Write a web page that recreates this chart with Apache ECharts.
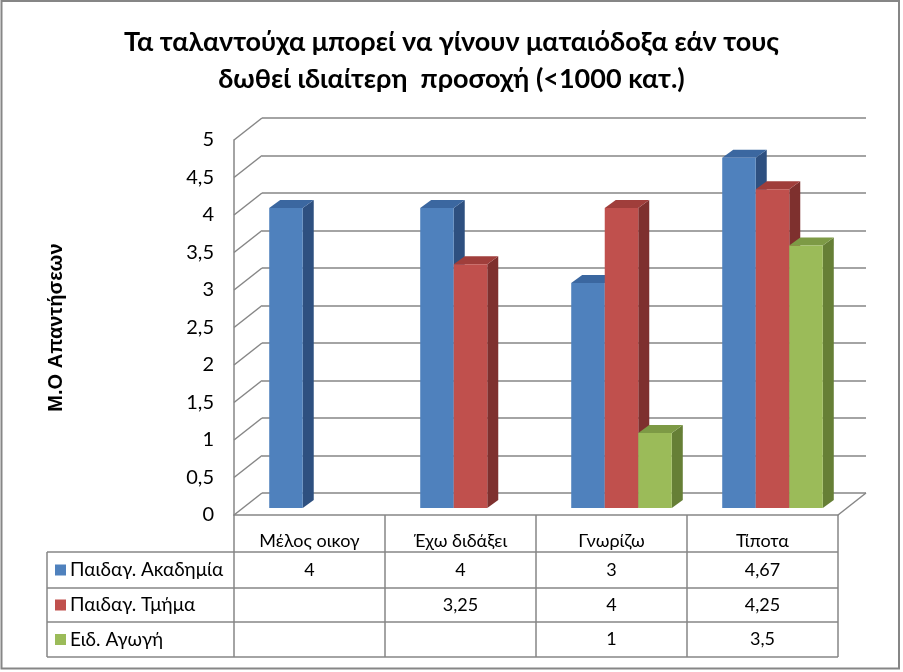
<!DOCTYPE html>
<html><head><meta charset="utf-8">
<script src="https://cdn.jsdelivr.net/npm/echarts@6/dist/echarts.min.js"></script>
<style>html,body{margin:0;padding:0;background:#fff}#c{width:903px;height:672px}</style>
</head><body><div id="c"></div>
<script>
const categories = ['Μέλος οικογ', 'Έχω διδάξει', 'Γνωρίζω', 'Τίποτα'];
const seriesNames = ['Παιδαγ. Ακαδημία', 'Παιδαγ. Τμήμα', 'Ειδ. Αγωγή'];
const academy = [4, 4, 3, 4.67];
const department = [null, 3.25, 4, 4.25];
const special = [null, null, 1, 3.5];
const yTicks = [0, 0.5, 1, 1.5, 2, 2.5, 3, 3.5, 4, 4.5, 5];
const titleText = 'Τα ταλαντούχα μπορεί να γίνουν ματαιόδοξα εάν τους\nδωθεί ιδιαίτερη  προσοχή (<1000 κατ.)';
const yTitle = 'Μ.Ο Απαντήσεων';

const FONT = 'Lato, "Noto Sans", sans-serif';
const GRAY = '#868686';
const faces = [
  {front:'#4F81BD', top:'#3B67A0', side:'#2E5080'},
  {front:'#C0504D', top:'#A03E3B', side:'#7E302E'},
  {front:'#9BBB59', top:'#7D9A45', side:'#667F36'}
];
const BACK_DX = 28, BACK_DY = -22;   // front plane -> back wall
const BAR_DX = 10, BAR_DY = -7;      // front plane -> bar front faces
const DEPTH_DX = 11, DEPTH_DY = -8;  // bar depth
const fmt = v => String(v).replace('.', ',');
const allSeries = [academy, department, special];

function barSeries(arr, s) {
  return {
    type: 'custom', xAxisIndex: 0, yAxisIndex: 0, z: 5,
    name: seriesNames[s],
    data: arr.map((v, i) => [i, v == null ? NaN : v]),
    renderItem: function (params, api) {
      const i = api.value(0), v = api.value(1);
      if (isNaN(v)) return null;
      const W = api.size([1, 0])[0];
      const bw = W * 0.222;
      const c = api.coord([i, v]);
      const b = api.coord([i, 0]);
      const x0 = c[0] - 1.5 * bw + s * bw + BAR_DX;
      const yt = c[1] + BAR_DY, yb = b[1] + BAR_DY;
      const f = faces[s];
      return {
        type: 'group',
        children: [
          {type: 'polygon', shape: {points: [[x0 + bw, yt], [x0 + bw + DEPTH_DX, yt + DEPTH_DY], [x0 + bw + DEPTH_DX, yb + DEPTH_DY], [x0 + bw, yb]]}, style: {fill: f.side}},
          {type: 'polygon', shape: {points: [[x0, yt], [x0 + DEPTH_DX, yt + DEPTH_DY], [x0 + bw + DEPTH_DX, yt + DEPTH_DY], [x0 + bw, yt]]}, style: {fill: f.top}},
          {type: 'rect', shape: {x: x0, y: yt, width: bw, height: yb - yt}, style: {fill: f.front}}
        ]
      };
    }
  };
}

const option = {
  animation: false,
  backgroundColor: '#fff',
  title: {
    text: titleText, left: 'center', top: 19,
    textStyle: {fontFamily: FONT, fontSize: 27, fontWeight: 'bold', color: '#000', lineHeight: 37}
  },
  graphic: [{type: 'rect', shape: {x: 1.5, y: 1, width: 897.5, height: 667.5}, style: {fill: null, stroke: GRAY, lineWidth: 2}, z: 100}],
  grid: [
    {left: 234, top: 140, width: 604, height: 375},
    {left: 234 + BACK_DX, top: 140 + BACK_DY, width: 604, height: 375}
  ],
  xAxis: [
    {type: 'category', gridIndex: 0, data: categories,
     axisLine: {show: true, lineStyle: {color: GRAY, width: 1.5}}, axisTick: {show: false},
     axisLabel: {color: '#000', fontFamily: FONT, fontSize: 18, margin: 17}},
    {type: 'category', gridIndex: 1, data: categories, show: false}
  ],
  yAxis: [
    {type: 'value', gridIndex: 0, min: 0, max: 5, interval: 0.5,
     axisLine: {show: true, lineStyle: {color: GRAY, width: 1.5}}, axisTick: {show: false}, splitLine: {show: false},
     axisLabel: {color: '#000', fontFamily: FONT, fontSize: 20, margin: 20, formatter: fmt},
     name: yTitle, nameLocation: 'middle', nameGap: 168,
     nameTextStyle: {color: '#000', fontFamily: '"Liberation Sans", Arial, sans-serif', fontSize: 20, fontWeight: 'bold'}},
    {type: 'value', gridIndex: 1, min: 0, max: 5, interval: 0.5,
     axisLine: {show: false}, axisTick: {show: false}, axisLabel: {show: false},
     splitLine: {show: true, lineStyle: {color: GRAY, width: 1.5}}}
  ],
  series: [
    { // left wall and floor diagonals
      type: 'custom', xAxisIndex: 0, yAxisIndex: 0, z: 1,
      data: yTicks.map(t => [0, t]),
      renderItem: function (params, api) {
        const W = api.size([1, 0])[0];
        const p = api.coord([0, api.value(1)]);
        const x = p[0] - W / 2;
        const kids = [{type: 'line', shape: {x1: x, y1: p[1], x2: x + BACK_DX, y2: p[1] + BACK_DY}, style: {stroke: GRAY, lineWidth: 1.5}}];
        if (params.dataIndex === 0) {
          const r = api.coord([categories.length - 1, 0]);
          const xr = r[0] + W / 2;
          kids.push({type: 'line', shape: {x1: xr, y1: r[1], x2: xr + BACK_DX, y2: r[1] + BACK_DY}, style: {stroke: GRAY, lineWidth: 1.5}});
        }
        return {type: 'group', children: kids};
      }
    },
    barSeries(academy, 0),
    barSeries(department, 1),
    barSeries(special, 2),
    { // data table
      type: 'custom', xAxisIndex: 0, yAxisIndex: 0, z: 3,
      data: categories.map((c, i) => [i, 0]),
      renderItem: function (params, api) {
        const i = api.value(0);
        const W = api.size([1, 0])[0];
        const p = api.coord([i, 0]);
        const y0 = p[1];
        const rowTops = [y0 + 37, y0 + 73, y0 + 107, y0 + 142];
        const kids = [];
        const line = (x1, y1, x2, y2) => kids.push({type: 'line', shape: {x1, y1, x2, y2}, style: {stroke: GRAY, lineWidth: 1.5}});
        line(p[0] - W / 2, y0, p[0] - W / 2, rowTops[3]);
        if (i === categories.length - 1) line(p[0] + W / 2, y0, p[0] + W / 2, rowTops[3]);
        allSeries.forEach((arr, s) => {
          const v = arr[i];
          if (v != null) kids.push({type: 'text', style: {text: fmt(v), x: p[0], y: (rowTops[s] + rowTops[s + 1]) / 2, align: 'center', verticalAlign: 'middle', fontFamily: FONT, fontSize: 18, fill: '#000'}});
        });
        if (i === 0) {
          const xl = 47;
          const xr = p[0] - W / 2 + W * categories.length;
          rowTops.forEach(y => line(xl, y, xr, y));
          line(xl, rowTops[0], xl, rowTops[3]);
          seriesNames.forEach((n, s) => {
            const yc = (rowTops[s] + rowTops[s + 1]) / 2;
            kids.push({type: 'rect', shape: {x: 55, y: yc - 5.5, width: 11, height: 11}, style: {fill: faces[s].front}});
            kids.push({type: 'text', style: {text: n, x: 70, y: yc, align: 'left', verticalAlign: 'middle', fontFamily: FONT, fontSize: 19, fill: '#000'}});
          });
        }
        return {type: 'group', children: kids};
      }
    }
  ]
};
const chart = echarts.init(document.getElementById('c'), null, {renderer: 'canvas'});
chart.setOption(option);
</script>
</body></html>
